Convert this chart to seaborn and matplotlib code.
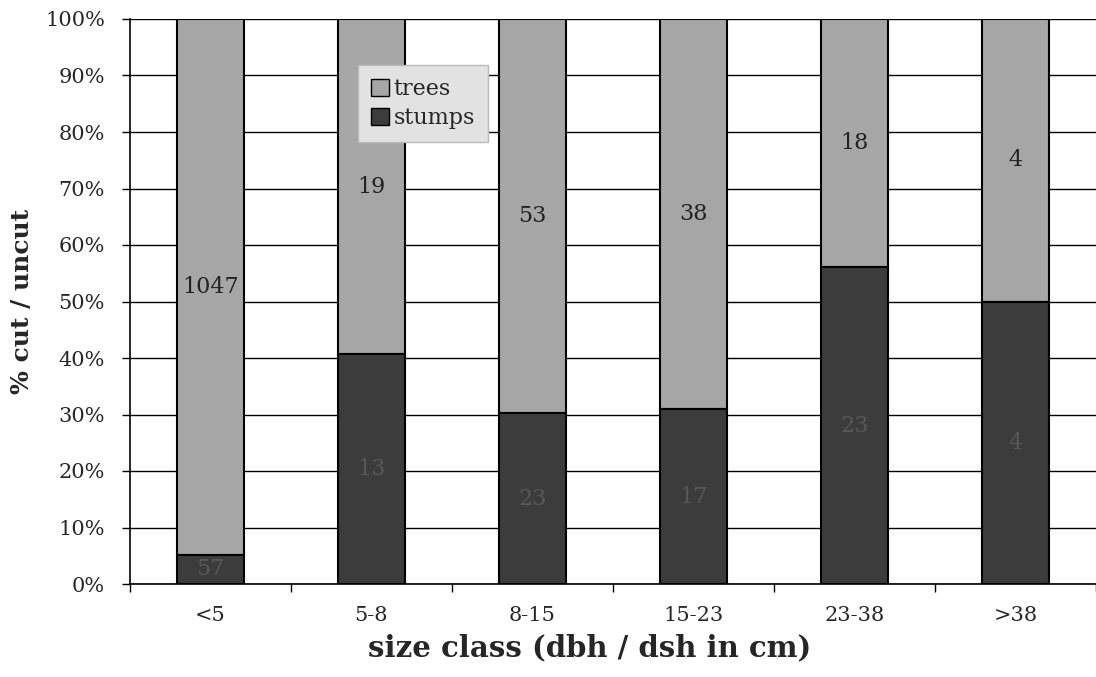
import numpy as np
import pandas as pd
import matplotlib
matplotlib.use('Agg')
import matplotlib.pyplot as plt
import seaborn as sns
from matplotlib.patches import Patch
from matplotlib.ticker import PercentFormatter

# counts per size class
size_classes = ['<5', '5-8', '8-15', '15-23', '23-38', '>38']
trees = [1047, 19, 53, 38, 18, 4]
stumps = [57, 13, 23, 17, 23, 4]

df = pd.DataFrame({'size': size_classes, 'trees': trees, 'stumps': stumps})
df['total'] = df['trees'] + df['stumps']
df['stump_pct'] = df['stumps'] / df['total'] * 100
df['tree_pct'] = df['trees'] / df['total'] * 100
df['all_pct'] = 100.0

sns.set_style('white')
plt.rcParams['font.family'] = ['DejaVu Serif']

tree_col = '#a6a6a6'
stump_col = '#3c3c3c'

fig = plt.figure(figsize=(10.96, 6.77), dpi=100)
ax = fig.add_axes([130 / 1096, 1 - 584 / 677, 1 - 130 / 1096, (584 - 19) / 677])

# trees first (full height), then stumps drawn on top
sns.barplot(data=df, x='size', y='all_pct', color=tree_col, width=0.41,
            edgecolor='black', linewidth=1.5, saturation=1, ax=ax, zorder=3)
sns.barplot(data=df, x='size', y='stump_pct', color=stump_col, width=0.41,
            edgecolor='black', linewidth=1.5, saturation=1, ax=ax, zorder=4)

# move the trees segment to sit above the stumps so centre labels land right
for p, s, t in zip(ax.containers[0], df['stump_pct'], df['tree_pct']):
    p.set_y(s)
    p.set_height(t)

ax.bar_label(ax.containers[0], labels=[str(v) for v in trees], label_type='center',
             fontsize=16, color='#222222', zorder=5)
ax.bar_label(ax.containers[1], labels=[str(v) for v in stumps], label_type='center',
             fontsize=16, color='#585858', zorder=5)

ax.set_ylim(0, 100)
ax.set_xlim(-0.5, 5.46)
ax.set_yticks(np.arange(0, 101, 10))
ax.yaxis.set_major_formatter(PercentFormatter(decimals=0))
ax.grid(axis='y', color='black', linewidth=1.0, zorder=0)
ax.set_axisbelow(True)

# x ticks between categories, labels at centres
ax.set_xticks(np.arange(-0.5, 6.0, 1.0), minor=True)
ax.tick_params(axis='x', which='major', length=0, pad=16, labelsize=15)
ax.tick_params(axis='x', which='minor', length=6, width=1, direction='out', color='black')
ax.tick_params(axis='y', length=6, width=1, direction='out', color='black', labelsize=15, pad=12)
ax.yaxis.set_tick_params(left=True)
ax.xaxis.set_tick_params(which='minor', bottom=True)

for side in ['top', 'right']:
    ax.spines[side].set_visible(False)
for side in ['left', 'bottom']:
    ax.spines[side].set_color('black')
    ax.spines[side].set_linewidth(1.2)

ax.set_xlabel('size class (dbh / dsh in cm)', fontsize=21, fontweight='bold')
ax.xaxis.set_label_coords(0.476, -0.088)
ax.set_ylabel('% cut / uncut', fontsize=18, fontweight='bold', labelpad=8)

handles = [Patch(facecolor=tree_col, edgecolor='black', label='trees'),
           Patch(facecolor=stump_col, edgecolor='black', label='stumps')]
leg = ax.legend(handles=handles, loc='upper left', bbox_to_anchor=(0.236, 0.919),
                borderaxespad=0, fontsize=16, frameon=True, fancybox=False, framealpha=1,
                edgecolor='#bbbbbb', facecolor='#e2e2e2', handlelength=0.8,
                handleheight=0.8, handletextpad=0.2, borderpad=0.6, labelspacing=0.3)
leg.set_zorder(10)

fig.savefig('out.png', dpi=100)
